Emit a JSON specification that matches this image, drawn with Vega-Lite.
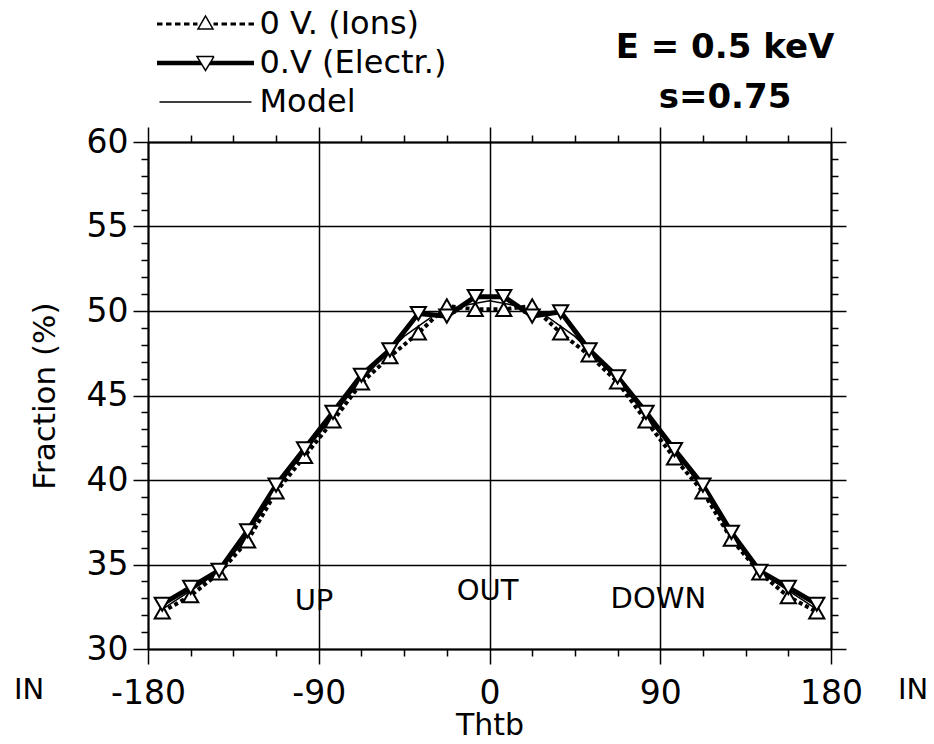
{
  "$schema": "https://vega.github.io/schema/vega-lite/v6.json",
  "width": 683,
  "height": 507,
  "autosize": {"type": "none"},
  "padding": {"left": 148, "top": 142, "right": 103, "bottom": 95},
  "background": "white",
  "config": {"view": {"stroke": null}, "font": "DejaVu Sans"},
  "datasets": {
    "curves": [
      {"thtb": -172.5, "fraction": 32.35, "series": "Model"},
      {"thtb": -165, "fraction": 32.9, "series": "Model"},
      {"thtb": -150, "fraction": 34.0, "series": "Model"},
      {"thtb": -135, "fraction": 35.6, "series": "Model"},
      {"thtb": -120, "fraction": 38.1, "series": "Model"},
      {"thtb": -105, "fraction": 40.6, "series": "Model"},
      {"thtb": -90, "fraction": 42.7, "series": "Model"},
      {"thtb": -75, "fraction": 44.9, "series": "Model"},
      {"thtb": -60, "fraction": 46.8, "series": "Model"},
      {"thtb": -45, "fraction": 48.5, "series": "Model"},
      {"thtb": -30, "fraction": 49.7, "series": "Model"},
      {"thtb": -15, "fraction": 50.3, "series": "Model"},
      {"thtb": 0, "fraction": 50.6, "series": "Model"},
      {"thtb": 15, "fraction": 50.3, "series": "Model"},
      {"thtb": 30, "fraction": 49.7, "series": "Model"},
      {"thtb": 45, "fraction": 48.5, "series": "Model"},
      {"thtb": 60, "fraction": 46.8, "series": "Model"},
      {"thtb": 75, "fraction": 44.9, "series": "Model"},
      {"thtb": 90, "fraction": 42.7, "series": "Model"},
      {"thtb": 105, "fraction": 40.6, "series": "Model"},
      {"thtb": 120, "fraction": 38.1, "series": "Model"},
      {"thtb": 135, "fraction": 35.6, "series": "Model"},
      {"thtb": 150, "fraction": 34.0, "series": "Model"},
      {"thtb": 165, "fraction": 32.9, "series": "Model"},
      {"thtb": 172.5, "fraction": 32.35, "series": "Model"},
      {"thtb": -172.5, "fraction": 32.2, "series": "0 V. (Ions)"},
      {"thtb": -157.5, "fraction": 33.15, "series": "0 V. (Ions)"},
      {"thtb": -142.5, "fraction": 34.5, "series": "0 V. (Ions)"},
      {"thtb": -127.5, "fraction": 36.4, "series": "0 V. (Ions)"},
      {"thtb": -112.5, "fraction": 39.3, "series": "0 V. (Ions)"},
      {"thtb": -97.5, "fraction": 41.4, "series": "0 V. (Ions)"},
      {"thtb": -82.5, "fraction": 43.5, "series": "0 V. (Ions)"},
      {"thtb": -67.5, "fraction": 45.75, "series": "0 V. (Ions)"},
      {"thtb": -52.5, "fraction": 47.3, "series": "0 V. (Ions)"},
      {"thtb": -37.5, "fraction": 48.7, "series": "0 V. (Ions)"},
      {"thtb": -22.5, "fraction": 50.3, "series": "0 V. (Ions)"},
      {"thtb": -7.5, "fraction": 50.1, "series": "0 V. (Ions)"},
      {"thtb": 7.5, "fraction": 50.1, "series": "0 V. (Ions)"},
      {"thtb": 22.5, "fraction": 50.3, "series": "0 V. (Ions)"},
      {"thtb": 37.5, "fraction": 48.7, "series": "0 V. (Ions)"},
      {"thtb": 52.5, "fraction": 47.4, "series": "0 V. (Ions)"},
      {"thtb": 67.5, "fraction": 45.8, "series": "0 V. (Ions)"},
      {"thtb": 82.5, "fraction": 43.5, "series": "0 V. (Ions)"},
      {"thtb": 97.5, "fraction": 41.3, "series": "0 V. (Ions)"},
      {"thtb": 112.5, "fraction": 39.3, "series": "0 V. (Ions)"},
      {"thtb": 127.5, "fraction": 36.5, "series": "0 V. (Ions)"},
      {"thtb": 142.5, "fraction": 34.5, "series": "0 V. (Ions)"},
      {"thtb": 157.5, "fraction": 33.1, "series": "0 V. (Ions)"},
      {"thtb": 172.5, "fraction": 32.2, "series": "0 V. (Ions)"},
      {"thtb": -172.5, "fraction": 32.65, "series": "0.V (Electr.)"},
      {"thtb": -157.5, "fraction": 33.65, "series": "0.V (Electr.)"},
      {"thtb": -142.5, "fraction": 34.65, "series": "0.V (Electr.)"},
      {"thtb": -127.5, "fraction": 37.0, "series": "0.V (Electr.)"},
      {"thtb": -112.5, "fraction": 39.7, "series": "0.V (Electr.)"},
      {"thtb": -97.5, "fraction": 41.85, "series": "0.V (Electr.)"},
      {"thtb": -82.5, "fraction": 44.0, "series": "0.V (Electr.)"},
      {"thtb": -67.5, "fraction": 46.2, "series": "0.V (Electr.)"},
      {"thtb": -52.5, "fraction": 47.7, "series": "0.V (Electr.)"},
      {"thtb": -37.5, "fraction": 49.85, "series": "0.V (Electr.)"},
      {"thtb": -22.5, "fraction": 49.7, "series": "0.V (Electr.)"},
      {"thtb": -7.5, "fraction": 50.85, "series": "0.V (Electr.)"},
      {"thtb": 7.5, "fraction": 50.85, "series": "0.V (Electr.)"},
      {"thtb": 22.5, "fraction": 49.7, "series": "0.V (Electr.)"},
      {"thtb": 37.5, "fraction": 49.95, "series": "0.V (Electr.)"},
      {"thtb": 52.5, "fraction": 47.7, "series": "0.V (Electr.)"},
      {"thtb": 67.5, "fraction": 46.1, "series": "0.V (Electr.)"},
      {"thtb": 82.5, "fraction": 44.0, "series": "0.V (Electr.)"},
      {"thtb": 97.5, "fraction": 41.8, "series": "0.V (Electr.)"},
      {"thtb": 112.5, "fraction": 39.7, "series": "0.V (Electr.)"},
      {"thtb": 127.5, "fraction": 36.9, "series": "0.V (Electr.)"},
      {"thtb": 142.5, "fraction": 34.6, "series": "0.V (Electr.)"},
      {"thtb": 157.5, "fraction": 33.65, "series": "0.V (Electr.)"},
      {"thtb": 172.5, "fraction": 32.65, "series": "0.V (Electr.)"}
    ],
    "texts": [
      {"label": "UP", "thtb": -92.5, "fraction": 32.85},
      {"label": "OUT", "thtb": -1, "fraction": 33.45},
      {"label": "DOWN", "thtb": 89, "fraction": 32.95},
      {"label": "IN", "thtb": -242.7, "fraction": 27.55},
      {"label": "IN", "thtb": 223.3, "fraction": 27.55}
    ]
  },
  "title": {
    "text": ["E = 0.5 keV", "s=0.75"],
    "anchor": "end",
    "align": "center",
    "frame": "group",
    "dx": -106,
    "dy": 122,
    "offset": 15,
    "font": "DejaVu Sans",
    "fontSize": 34,
    "fontWeight": "bold",
    "color": "black",
    "lineHeight": 50
  },
  "resolve": {"axis": {"x": "independent", "y": "independent"}},
  "layer": [
    {
      "data": {"name": "curves"},
      "transform": [{"filter": "datum.series === 'Model'"}],
      "mark": {"type": "line", "clip": false, "strokeWidth": 1.5},
      "encoding": {
        "x": {
          "field": "thtb", "type": "quantitative",
          "scale": {"domain": [-180, 180], "nice": false, "zero": false},
          "axis": {
            "orient": "bottom",
            "values": [-180, -157.5, -135, -112.5, -90, -67.5, -45, -22.5, 0, 22.5, 45, 67.5, 90, 112.5, 135, 157.5, 180],
            "labelExpr": "datum.value % 90 === 0 ? '' + datum.value : ''",
            "labelFont": "DejaVu Sans", "labelFontSize": 33, "labelColor": "black",
            "labelPadding": 13, "labelFlush": false, "labelOverlap": false,
            "tickSize": {"condition": {"test": "datum.value % 90 === 0", "value": 15}, "value": 7},
            "tickColor": "black", "tickWidth": 1.5,
            "grid": true, "gridColor": "black", "gridWidth": 1.5,
            "gridOpacity": {"condition": {"test": "datum.value % 90 === 0", "value": 1}, "value": 0},
            "domain": true, "domainColor": "black", "domainWidth": 2,
            "title": "Thtb", "titleFont": "DejaVu Sans", "titleFontSize": 30,
            "titleFontWeight": "normal", "titleColor": "black", "titlePadding": 0
          }
        },
        "y": {
          "field": "fraction", "type": "quantitative",
          "scale": {"domain": [30, 60], "nice": false, "zero": false},
          "axis": {
            "orient": "left",
            "values": [30,31,32,33,34,35,36,37,38,39,40,41,42,43,44,45,46,47,48,49,50,51,52,53,54,55,56,57,58,59,60],
            "labelExpr": "datum.value % 5 === 0 ? '' + datum.value : ''",
            "labelFont": "DejaVu Sans", "labelFontSize": 33, "labelColor": "black",
            "labelPadding": 5, "labelFlush": false, "labelOverlap": false,
            "tickSize": {"condition": {"test": "datum.value % 5 === 0", "value": 15}, "value": 7},
            "tickColor": "black", "tickWidth": 1.5,
            "grid": true, "gridColor": "black", "gridWidth": 1.5,
            "gridOpacity": {"condition": {"test": "datum.value % 5 === 0", "value": 1}, "value": 0},
            "domain": true, "domainColor": "black", "domainWidth": 2,
            "title": "Fraction (%)", "titleFont": "DejaVu Sans", "titleFontSize": 31,
            "titleFontWeight": "normal", "titleColor": "black", "titlePadding": 25
          }
        },
        "color": {
          "field": "series", "type": "nominal",
          "scale": {"domain": ["0 V. (Ions)", "0.V (Electr.)", "Model"], "range": ["black", "black", "black"]},
          "legend": {
            "orient": "none", "legendX": 7, "legendY": -134, "direction": "vertical",
            "title": null, "padding": 0, "symbolSize": 400, "symbolOffset": 34.5, "labelOffset": 38,
            "labelFont": "DejaVu Sans", "labelFontSize": 32, "labelColor": "black", "labelLimit": 400,
            "rowPadding": 7, "symbolStrokeWidth": 1.5,
            "labelExpr": "datum.label == 'Model' ? '\u00a0\u00a0Model' : datum.label",
            "encode": {
              "symbols": {
                "update": {
                  "shape": {"signal": "datum.value === '0 V. (Ions)' ? 'M-4.85 -0.08H-4.3M-4.85 0.08H-4.3M-3.95 -0.08H-3.4M-3.95 0.08H-3.4M-3.05 -0.08H-2.5M-3.05 0.08H-2.5M-2.15 -0.08H-1.6M-2.15 0.08H-1.6M-1.25 -0.08H-0.8M-1.25 0.08H-0.8M0.8 -0.08H1.25M0.8 0.08H1.25M1.6 -0.08H2.15M1.6 0.08H2.15M2.5 -0.08H3.05M2.5 0.08H3.05M3.4 -0.08H3.95M3.4 0.08H3.95M4.3 -0.08H4.85M4.3 0.08H4.85M0 -0.8L-0.75 0.5L0.75 0.5Z' : datum.value === '0.V (Electr.)' ? 'M-4.85 -0.15H-0.5M-4.85 0H-0.45M-4.85 0.15H-0.4M0.5 -0.15H4.85M0.45 0H4.85M0.4 0.15H4.85M-0.85 -0.65L0.85 -0.65L0 0.75Z' : 'M-4.6 0H4.6'"},
                  "fill": {"value": "white"},
                  "fillOpacity": {"value": 1},
                  "stroke": {"value": "black"},
                  "strokeWidth": {"value": 1.5},
                  "strokeDash": {"value": [1, 0]},
                  "opacity": {"value": 1}
                }
              }
            }
          }
        }
      }
    },
    {
      "data": {"name": "curves"},
      "transform": [{"filter": "datum.series === '0 V. (Ions)'"}],
      "mark": {"type": "line", "clip": false, "color": "black", "strokeWidth": 4, "strokeDash": [4, 3]},
      "encoding": {
        "x": {"field": "thtb", "type": "quantitative", "scale": {"domain": [-180, 180], "nice": false, "zero": false}, "axis": null},
        "y": {"field": "fraction", "type": "quantitative", "scale": {"domain": [30, 60], "nice": false, "zero": false}, "axis": null}
      }
    },
    {
      "data": {"name": "curves"},
      "transform": [{"filter": "datum.series === '0.V (Electr.)'"}],
      "mark": {"type": "line", "clip": false, "color": "black", "strokeWidth": 5},
      "encoding": {
        "x": {"field": "thtb", "type": "quantitative", "scale": {"domain": [-180, 180], "nice": false, "zero": false}, "axis": null},
        "y": {"field": "fraction", "type": "quantitative", "scale": {"domain": [30, 60], "nice": false, "zero": false}, "axis": null}
      }
    },
    {
      "data": {"name": "curves"},
      "transform": [{"filter": "datum.series === '0 V. (Ions)'"}],
      "mark": {"type": "point", "shape": "triangle-up", "filled": true, "fill": "white", "stroke": "black", "strokeWidth": 2, "size": 230, "opacity": 1, "clip": false},
      "encoding": {
        "x": {
          "field": "thtb", "type": "quantitative",
          "scale": {"domain": [-180, 180], "nice": false, "zero": false},
          "axis": {
            "orient": "top",
            "values": [-180, -157.5, -135, -112.5, -90, -67.5, -45, -22.5, 0, 22.5, 45, 67.5, 90, 112.5, 135, 157.5, 180],
            "labels": false, "grid": false, "title": null,
            "tickSize": {"condition": {"test": "datum.value % 90 === 0", "value": 15}, "value": 7},
            "tickColor": "black", "tickWidth": 1.5,
            "domain": true, "domainColor": "black", "domainWidth": 2
          }
        },
        "y": {
          "field": "fraction", "type": "quantitative",
          "scale": {"domain": [30, 60], "nice": false, "zero": false},
          "axis": {
            "orient": "right",
            "values": [30,31,32,33,34,35,36,37,38,39,40,41,42,43,44,45,46,47,48,49,50,51,52,53,54,55,56,57,58,59,60],
            "labels": false, "grid": false, "title": null,
            "tickSize": {"condition": {"test": "datum.value % 5 === 0", "value": 15}, "value": 7},
            "tickColor": "black", "tickWidth": 1.5,
            "domain": true, "domainColor": "black", "domainWidth": 2
          }
        }
      }
    },
    {
      "data": {"name": "curves"},
      "transform": [{"filter": "datum.series === '0.V (Electr.)'"}],
      "mark": {"type": "point", "shape": "triangle-down", "filled": true, "fill": "white", "stroke": "black", "strokeWidth": 2, "size": 230, "opacity": 1, "clip": false},
      "encoding": {
        "x": {"field": "thtb", "type": "quantitative", "scale": {"domain": [-180, 180], "nice": false, "zero": false}, "axis": null},
        "y": {"field": "fraction", "type": "quantitative", "scale": {"domain": [30, 60], "nice": false, "zero": false}, "axis": null}
      }
    },
    {
      "data": {"name": "texts"},
      "mark": {"type": "text", "font": "DejaVu Sans", "fontSize": 29, "color": "black", "align": "center", "baseline": "middle", "clip": false},
      "encoding": {
        "x": {"field": "thtb", "type": "quantitative", "scale": {"domain": [-180, 180], "nice": false, "zero": false}, "axis": null},
        "y": {"field": "fraction", "type": "quantitative", "scale": {"domain": [30, 60], "nice": false, "zero": false}, "axis": null},
        "text": {"field": "label", "type": "nominal"}
      }
    }
  ]
}
